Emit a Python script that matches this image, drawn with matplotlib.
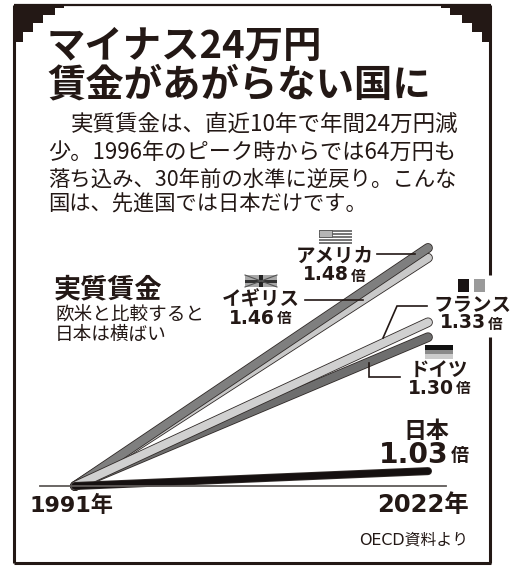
import matplotlib
matplotlib.use("Agg")
import matplotlib.pyplot as plt
import matplotlib.patheffects as pe
from matplotlib.patches import Polygon, Rectangle

plt.rcParams['font.family'] = ['Noto Sans CJK JP', 'DejaVu Sans']

W, H = 524, 566
INK = '#231815'
WIDE = ['DejaVu Sans', 'Noto Sans CJK JP']

years = [1991, 2022]
countries = ['イギリス', 'アメリカ', 'ドイツ', 'フランス', '日本']
ratios = [1.46, 1.48, 1.30, 1.33, 1.03]
ratio_labels = ['1.46', '1.48', '1.30', '1.33', '1.03']
line_colors = ['#c9c9c9', '#7f7f7f', '#6e6e6e', '#d0d0d0', '#151010']
line_widths = [5.8, 5.8, 5.8, 5.8, 4.6]

title_lines = ['マイナス24万円', '賃金があがらない国に']
body_lines = ['実質賃金は、直近10年で年間24万円減',
              '少。1996年のピーク時からでは64万円も',
              '落ち込み、30年前の水準に逆戻り。こんな',
              '国は、先進国では日本だけです。']
chart_heading = '実質賃金'
chart_notes = ['欧米と比較すると', '日本は横ばい']
source = 'OECD資料より'

fig = plt.figure(figsize=(W / 100, H / 100), dpi=100, facecolor='white')

# Page layer, addressed in pixels from the top-left corner
page = fig.add_axes([0, 0, 1, 1])
page.set_xlim(0, W)
page.set_ylim(H, 0)
page.axis('off')

# Frame, with the right side interrupted where the France label crosses it
for xs, ys, lw in [((14, 14), (5, 563), 2.2), ((14, 491), (563, 563), 2.2),
                   ((14, 491), (5, 5), 1.6), ((490, 490), (5, 275), 2.2),
                   ((490, 490), (337, 563), 2.2)]:
    page.plot(xs, ys, color=INK, lw=lw, solid_capstyle='butt')

# Stepped corner ornaments
steps = [(14, 5), (64, 5), (64, 8), (55, 8), (55, 15), (43, 15), (43, 23),
         (33, 23), (33, 32), (23, 32), (23, 42), (14, 42)]
page.add_patch(Polygon(steps, closed=True, fc=INK, ec='none'))
page.add_patch(Polygon([(491 - (x - 14), y) for x, y in steps], closed=True, fc=INK, ec='none'))

# Headline and lead paragraph
for text, y in zip(title_lines, [46, 85]):
    page.text(47, y, text, fontsize=27.6, fontweight='bold', color=INK, va='center', ha='left')
for text, x, y, size in zip(body_lines, [71, 48, 48, 48], [124, 152, 180, 205],
                            [16.2, 16.0, 15.4, 15.3]):
    page.text(x, y, text, fontsize=size, color=INK, va='center', ha='left')

# Side heading
page.text(54, 289, chart_heading, fontsize=19.5, fontweight='bold', color=INK, va='center')
for text, y in zip(chart_notes, [315, 335]):
    page.text(55, y, text, fontsize=13.4, color=INK, va='center')

# Baseline
page.plot([40, 446], [486, 486], color='#5f5a58', lw=1.3, zorder=1)

# Chart layer: values on a real scale, 1991 at x=75 and 2022 at x=428
chart = fig.add_axes([75 / W, (H - 486) / H, (428 - 75) / W, 248 / H])
chart.set_xlim(years[0], years[1])
chart.set_ylim(1.0, 1.5)
chart.axis('off')
chart.patch.set_alpha(0)
for ratio, color, lw in zip(ratios, line_colors, line_widths):
    chart.plot(years, [1.0, ratio], color=color, lw=lw, solid_capstyle='round', clip_on=False,
               path_effects=[pe.Stroke(linewidth=lw + 1.2, foreground='#302a28'), pe.Normal()])

# Leader lines on top of the bars
page.set_zorder(2)
for xs, ys in [((377, 415), (254, 254)),
               ((305, 363), (300, 300)),
               ((427, 397, 383), (306, 306, 338)),
               ((400, 369, 369), (377, 377, 363))]:
    page.plot(xs, ys, color=INK, lw=1.2, solid_joinstyle='miter')


def value_label(name, value, cx, split, y_name, y_value,
                name_size=14, value_size=13.5, unit_size=10.5):
    """Country name above its ratio, with the 倍 unit set smaller."""
    page.text(cx, y_name, name, fontsize=name_size, fontweight='bold', color=INK,
              ha='center', va='center')
    page.text(split, y_value, value, fontsize=value_size, fontweight='bold', color=INK,
              ha='right', va='center', family=WIDE)
    page.text(split + 2, y_value + 0.5, '倍', fontsize=unit_size, fontweight='bold', color=INK,
              ha='left', va='center')


positions = {'イギリス': (261, 275, 300, 318), 'アメリカ': (335, 349, 256, 275),
             'ドイツ': (439, 454, 370, 388), 'フランス': (472, 486, 305, 323)}
for name, label in zip(countries, ratio_labels):
    if name in positions:
        cx, split, y_name, y_value = positions[name]
        value_label(name, label, cx, split, y_name, y_value)
value_label(countries[4], ratio_labels[4], 426, 449, 431, 455,
            name_size=16.5, value_size=20.3, unit_size=13)

# Year labels and source
page.text(71, 505, f'{years[0]}年', fontsize=16, fontweight='bold', color=INK, ha='center', va='center', family=WIDE)
page.text(423, 505, f'{years[1]}年', fontsize=17.5, fontweight='bold', color=INK, ha='center', va='center', family=WIDE)
page.text(468, 540, source, fontsize=11.4, color=INK, ha='right', va='center', family=WIDE)

# Small flags
# USA
for i in range(5):
    page.add_patch(Rectangle((319, 230 + i * 3), 33, 1.6, fc='#777777', ec='none'))
page.add_patch(Rectangle((319, 230), 13, 7, fc='#b5b5b5', ec='#555555', lw=0.6))
# UK
page.add_patch(Rectangle((245, 275), 32, 12, fc='#a8a8a8', ec='none'))
page.plot([245, 277], [275, 287], color='#555555', lw=0.8)
page.plot([245, 277], [287, 275], color='#555555', lw=0.8)
page.add_patch(Rectangle((245, 279.5), 32, 3, fc='#333333', ec='none'))
page.add_patch(Rectangle((259, 275), 4, 12, fc='#222222', ec='none'))
# France
page.add_patch(Rectangle((458, 279), 11, 13, fc='#1a1414', ec='none'))
page.add_patch(Rectangle((474, 279), 11, 13, fc='#9a9a9a', ec='none'))
# Germany
page.add_patch(Rectangle((425, 345), 28, 4.5, fc='#111111', ec='none'))
page.add_patch(Rectangle((425, 349.5), 28, 4.5, fc='#8a8a8a', ec='none'))
page.add_patch(Rectangle((425, 354), 28, 4.5, fc='#cccccc', ec='none'))

fig.savefig('out.png', dpi=100)
